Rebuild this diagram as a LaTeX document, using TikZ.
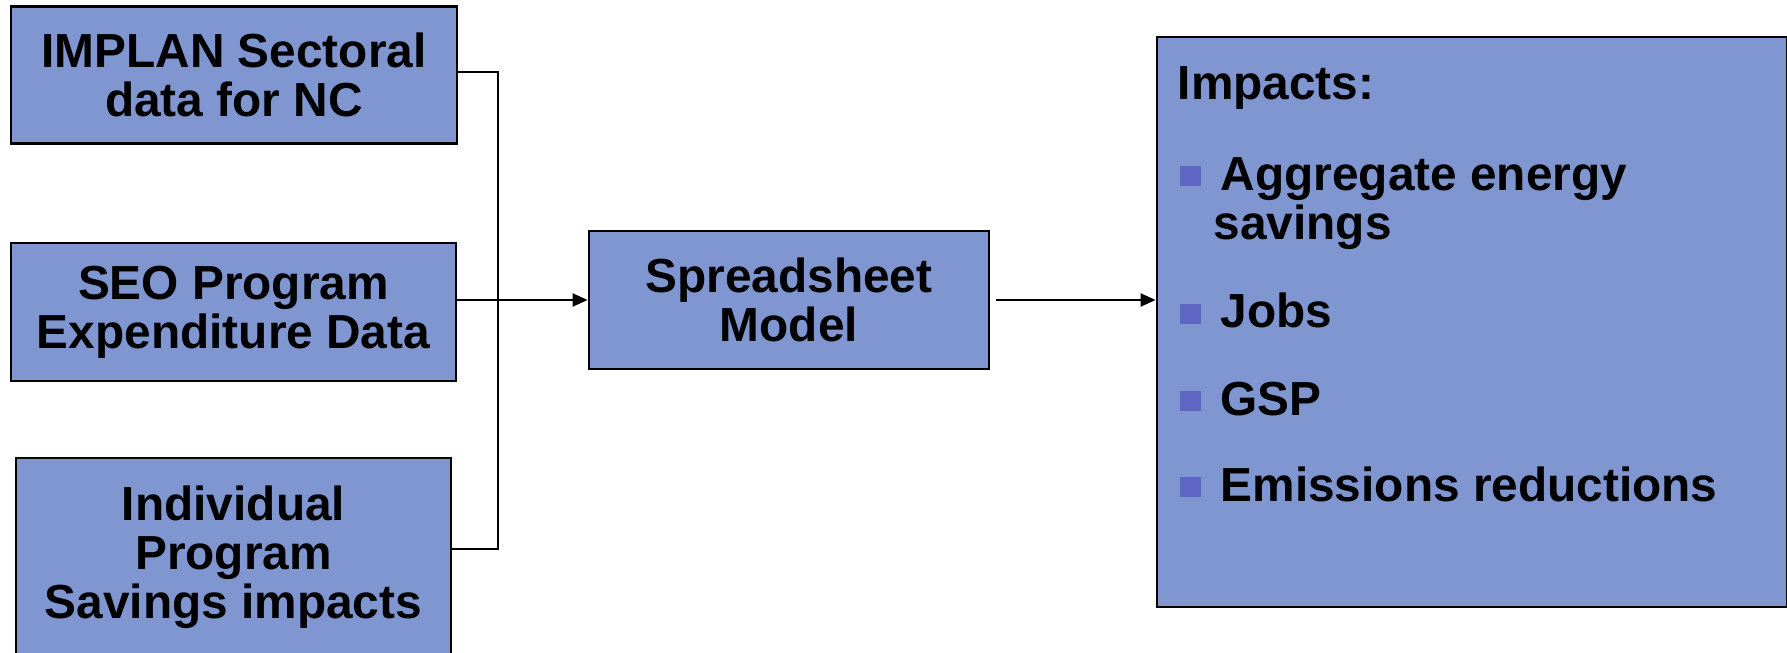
\documentclass[tikz,border=0pt]{standalone}
\usepackage{fontspec}
\setmainfont{Liberation Sans}
\usetikzlibrary{positioning}
\usetikzlibrary{arrows.meta}
\definecolor{boxblue}{RGB}{127,150,209}
\definecolor{bulletblue}{RGB}{94,102,196}

\begin{document}
\begin{tikzpicture}[
  box/.style={draw=black,line width=0.8pt,fill=boxblue,align=center,inner sep=0pt,
    font=\fontsize{13.6}{13.9}\selectfont\bfseries},
  item/.style={anchor=base west,inner sep=0pt,align=left,
    font=\fontsize{13.6}{13.9}\selectfont\bfseries},
  wire/.style={line width=0.6pt},
  flow/.style={wire,-{Triangle[length=0.15cm,width=0.13cm]}}]
 \useasboundingbox (0,0) rectangle (17.87,6.52);
 \node[box,minimum width=4.46cm,minimum height=1.37cm] (implan) at (2.34,5.77) {IMPLAN Sectoral\\data for NC};
 \node[box,minimum width=4.45cm,minimum height=1.38cm] (seo) at (2.335,3.40) {SEO Program\\Expenditure Data};
 \node[box,minimum width=4.35cm,minimum height=1.98cm] (indiv) at (2.335,0.95) {Individual\\Program\\Savings impacts};
 \node[box,minimum width=4.00cm,minimum height=1.38cm] (model) at (7.89,3.52) {Spreadsheet\\Model};
 \node[box,minimum width=6.30cm,minimum height=5.70cm] (impacts) at (14.72,3.30) {};
 \node[item] (head) at (11.77,5.52) {Impacts:};
 \node[item] (agg) at (12.20,4.13) {Aggregate energy\\\hspace*{-0.07cm}savings};
 \node[item] (jobs) at (12.20,3.24) {Jobs};
 \node[item] (gsp) at (12.20,2.37) {GSP};
 \node[item] (emis) at (12.20,1.51) {Emissions reductions};
 \foreach \n/\dy in {agg/0.53,jobs/0.04,gsp/0.04,emis/0.04}
  \fill[bulletblue] ([xshift=-0.40cm,yshift=\dy cm]\n.base west) rectangle ++(0.21,0.20);
 \coordinate (bustop) at (4.98,5.80);
 \coordinate (busbot) at (4.98,1.03);
 \draw[wire] (bustop -| implan.east) -- (bustop) -- (busbot) -- (busbot -| indiv.east);
 \draw[flow] (seo.east |- model.west) -- (model.west);
 \draw[flow,shorten <=0.06cm] (model.east) -- (model.east -| impacts.west);
\end{tikzpicture}
\end{document}
